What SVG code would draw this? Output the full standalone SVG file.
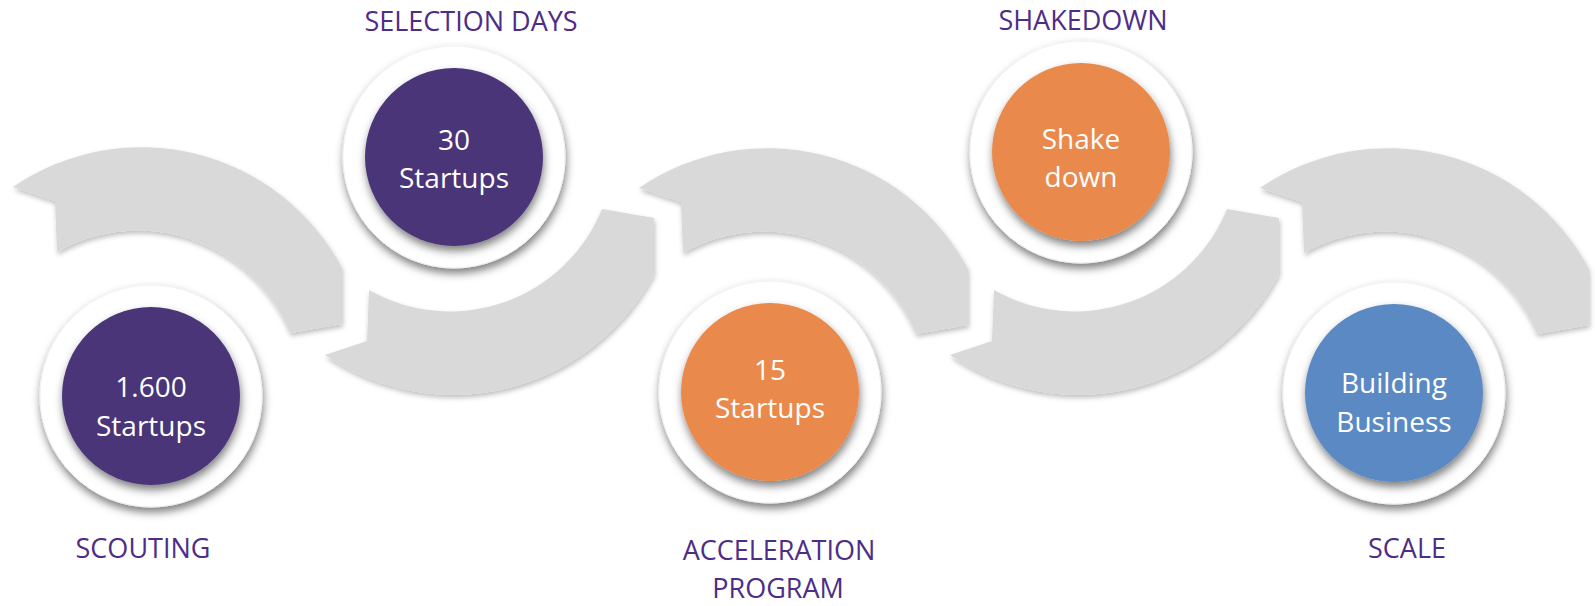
<svg xmlns="http://www.w3.org/2000/svg" width="1595" height="606" viewBox="0 0 1595 606">
<style>
  .arc { fill: #D9D9D9; }
  .ring { fill: #FFFFFF; stroke: #F1F1F1; stroke-width: 1; }
  .purple { fill: #4A3577; }
  .orange { fill: #E9894B; }
  .blue { fill: #5A89C3; }
  .inner { font-family: "Open Sans", "Liberation Sans", sans-serif; font-size: 28px; fill: #FFFFFF; text-anchor: middle; }
  .label { font-family: "Open Sans", "Liberation Sans", sans-serif; font-size: 27px; fill: #4E2D87; text-anchor: middle; }
</style>
<defs>
  <filter id="arcShadow" x="-10%" y="-10%" width="120%" height="130%">
    <feDropShadow dx="1" dy="3" stdDeviation="2.5" flood-color="#000" flood-opacity="0.25"/>
  </filter>
  <filter id="circShadow" x="-20%" y="-20%" width="140%" height="150%">
    <feDropShadow dx="1" dy="5" stdDeviation="4" flood-color="#000" flood-opacity="0.5"/>
  </filter>
  <path id="arcTop" d="M 13,187 A 227,227 0 0 1 342,268 L 342,324 L 290,333 A 164,164 0 0 0 57,252 L 55,201 Z"/>
  <path id="arcBot" d="M 325,355 A 227,227 0 0 0 654,274 L 654,218 L 602,209 A 164,164 0 0 1 369,290 L 367,341 Z"/>
</defs>

<g id="connectors">
  <g filter="url(#arcShadow)"><use href="#arcTop" class="arc"/></g>
  <g filter="url(#arcShadow)"><use href="#arcBot" class="arc"/></g>
  <g filter="url(#arcShadow)"><use href="#arcTop" class="arc" transform="translate(626,1)"/></g>
  <g filter="url(#arcShadow)"><use href="#arcBot" class="arc" transform="translate(625,0)"/></g>
  <g filter="url(#arcShadow)"><use href="#arcTop" class="arc" transform="translate(1247,1)"/></g>
</g>

<g id="node-scouting">
  <circle class="ring" cx="151" cy="396" r="111" filter="url(#circShadow)"/>
  <circle class="purple" cx="151" cy="396" r="89" filter="url(#circShadow)"/>
  <text class="inner" x="151" y="397">1.600</text>
  <text class="inner" x="151" y="436">Startups</text>
  <text class="label" x="143" y="558">SCOUTING</text>
</g>

<g id="node-selection">
  <circle class="ring" cx="454" cy="157" r="111" filter="url(#circShadow)"/>
  <circle class="purple" cx="454" cy="157" r="89" filter="url(#circShadow)"/>
  <text class="inner" x="454" y="150">30</text>
  <text class="inner" x="454" y="188">Startups</text>
  <text class="label" x="471" y="31">SELECTION DAYS</text>
</g>

<g id="node-acceleration">
  <circle class="ring" cx="770" cy="392" r="111" filter="url(#circShadow)"/>
  <circle class="orange" cx="770" cy="392" r="89" filter="url(#circShadow)"/>
  <text class="inner" x="770" y="380">15</text>
  <text class="inner" x="770" y="418">Startups</text>
  <text class="label" x="779" y="560">ACCELERATION</text>
  <text class="label" x="778" y="598">PROGRAM</text>
</g>

<g id="node-shakedown">
  <circle class="ring" cx="1081" cy="152" r="111" filter="url(#circShadow)"/>
  <circle class="orange" cx="1081" cy="152" r="89" filter="url(#circShadow)"/>
  <text class="inner" x="1081" y="149">Shake</text>
  <text class="inner" x="1081" y="187">down</text>
  <text class="label" x="1083" y="30">SHAKEDOWN</text>
</g>

<g id="node-scale">
  <circle class="ring" cx="1394" cy="393" r="111" filter="url(#circShadow)"/>
  <circle class="blue" cx="1394" cy="393" r="89" filter="url(#circShadow)"/>
  <text class="inner" x="1394" y="393">Building</text>
  <text class="inner" x="1394" y="432">Business</text>
  <text class="label" x="1407" y="558">SCALE</text>
</g>
</svg>
